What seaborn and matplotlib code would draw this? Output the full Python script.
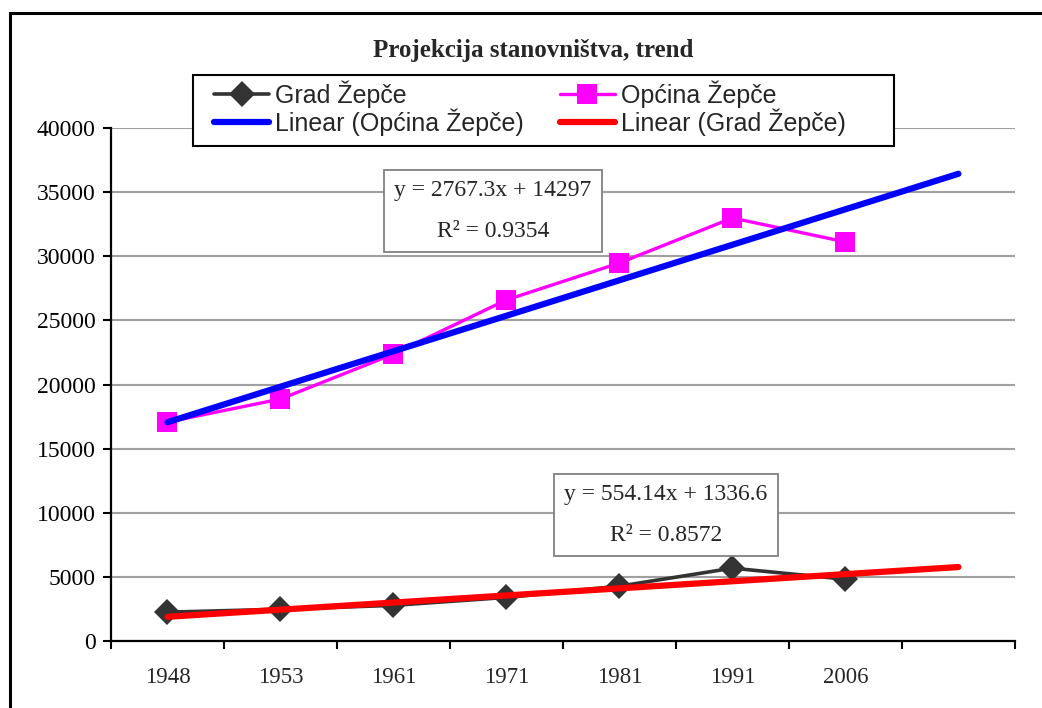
import numpy as np
import pandas as pd
import matplotlib.pyplot as plt
import seaborn as sns
from matplotlib.patches import Rectangle

# DATA

years = ["1948", "1953", "1961", "1971", "1981", "1991", "2006"]
grad_zepce = [2250, 2480, 2780, 3400, 4280, 5680, 4820]
opcina_zepce = [17080, 18870, 22380, 26600, 29480, 32990, 31120]

# trendline coefficients as printed on the chart
opcina_slope, opcina_icpt, opcina_r2 = 2767.3, 14297, 0.9354
grad_slope, grad_icpt, grad_r2 = 554.14, 1336.6, 0.8572
trend_periods = 8  # 7 categories + 1 forecast period

y_ticks = [0, 5000, 10000, 15000, 20000, 25000, 30000, 35000, 40000]

# BUILD FRAMES

df = pd.DataFrame({"pos": np.arange(len(years)),
                   "Grad Žepče": grad_zepce,
                   "Općina Žepče": opcina_zepce})

k = np.arange(1, trend_periods + 1)
trend = pd.DataFrame({"pos": k - 1,
                      "opcina": opcina_slope * k + opcina_icpt,
                      "grad": grad_slope * k + grad_icpt})

# PLOT

sns.set_style("white")
plt.rcParams["font.family"] = ["Liberation Serif", "DejaVu Serif"]

fig = plt.figure(figsize=(10.42, 7.08), dpi=100)
ax = fig.add_axes([0.1065, 0.0946, 0.8675, 0.7245])

sns.lineplot(data=df, x="pos", y="Grad Žepče", ax=ax, color="#333333",
             linewidth=2.6, marker="D", markersize=13, markeredgewidth=0,
             label="Grad Žepče", zorder=3)
sns.lineplot(data=df, x="pos", y="Općina Žepče", ax=ax, color="#FF00FF",
             linewidth=2.4, marker="s", markersize=14, markeredgewidth=0,
             label="Općina Žepče", zorder=3)
sns.lineplot(data=trend, x="pos", y="opcina", ax=ax, color="#0000FF",
             linewidth=4.5, label="Linear (Općina Žepče)", zorder=4)
sns.lineplot(data=trend, x="pos", y="grad", ax=ax, color="#FF0000",
             linewidth=4.5, label="Linear (Grad Žepče)", zorder=4)

# axes styling, Excel-like
ax.set_xlim(-0.5, len(years) + 0.5)
ax.set_ylim(0, 40000)
ax.set_yticks(y_ticks)
ax.set_yticklabels([str(v) for v in y_ticks])
ax.set_xticks(range(len(years)))
ax.set_xticklabels(years)
ax.set_xticks(np.arange(-0.5, len(years) + 1, 1.0), minor=True)
ax.set_xlabel("")
ax.set_ylabel("")

ax.yaxis.grid(True, color="#A0A0A0", linewidth=1.5)
ax.xaxis.grid(False)
ax.set_axisbelow(True)

for side in ["top", "right"]:
    ax.spines[side].set_visible(False)
for side in ["left", "bottom"]:
    ax.spines[side].set_color("black")
    ax.spines[side].set_linewidth(1.6)

ax.tick_params(axis="y", which="major", direction="out", length=6, width=1.5,
               colors="black", left=True, labelsize=17, pad=5)
ax.tick_params(axis="x", which="major", length=0, labelsize=16.5, pad=19)
ax.tick_params(axis="x", which="minor", direction="out", length=6, width=1.5,
               colors="black", bottom=True)

# equation boxes
box = dict(boxstyle="square,pad=0.42", facecolor="white", edgecolor="#808080",
           linewidth=1.3)
ax.text(0.4226, 0.838, f"y = {opcina_slope}x + {opcina_icpt}\nR² = {opcina_r2}",
        transform=ax.transAxes, ha="center", va="center", fontsize=17,
        linespacing=2.25, bbox=box, zorder=5)
ax.text(0.614, 0.2456, f"y = {grad_slope}x + {grad_icpt}\nR² = {grad_r2}",
        transform=ax.transAxes, ha="center", va="center", fontsize=17,
        linespacing=2.25, bbox=box, zorder=5)

# legend box (drawn separately so its size matches the Excel one)
fig.patches.append(Rectangle((0.1852, 0.7938), 0.6727, 0.1003,
                             transform=fig.transFigure, facecolor="white",
                             edgecolor="black", linewidth=1.5, zorder=4))

# legend (column-major order for ncol=2)
h, l = ax.get_legend_handles_labels()
order = [0, 2, 1, 3]
leg = fig.legend([h[i] for i in order], [l[i] for i in order], ncol=2,
                 loc="upper left", bbox_to_anchor=(0.2054, 0.886),
                 frameon=False, borderaxespad=0, borderpad=0,
                 handlelength=2.2, handletextpad=0.23,
                 columnspacing=1.45, labelspacing=0,
                 prop={"family": ["Liberation Sans", "DejaVu Sans"], "size": 18})
leg.set_zorder(5)
ax.get_legend().remove()

# title
fig.text(0.512, 0.929, "Projekcija stanovništva, trend", ha="center",
         va="center", fontsize=18, fontweight="bold")

# outer chart frame
fig.patches.append(Rectangle((0.0096, -0.05), 1.2, 0.9816 + 0.05,
                             transform=fig.transFigure, fill=False,
                             edgecolor="black", linewidth=2.2))

plt.savefig("out.png", dpi=100)
